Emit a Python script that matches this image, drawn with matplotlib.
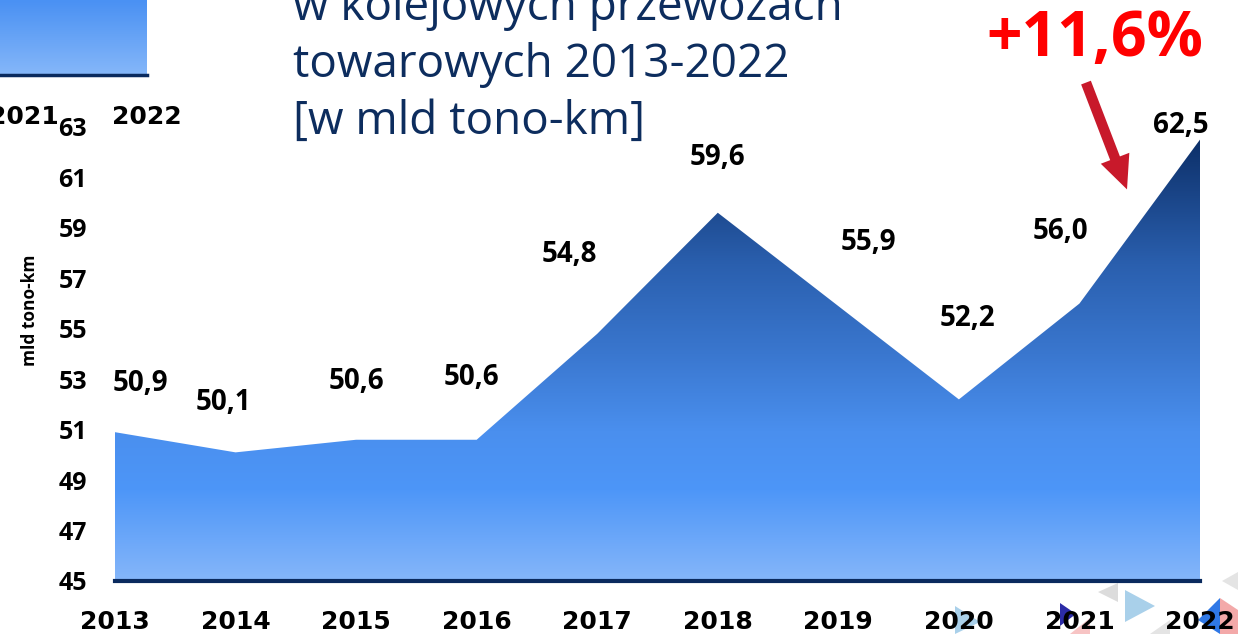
import numpy as np
import matplotlib
matplotlib.use('Agg')
import matplotlib.pyplot as plt
from matplotlib.colors import LinearSegmentedColormap
from matplotlib.patches import Polygon, FancyArrowPatch

# data: freight rail transport work, bn tonne-km
years = [2013, 2014, 2015, 2016, 2017, 2018, 2019, 2020, 2021, 2022]
values = [50.9, 50.1, 50.6, 50.6, 54.8, 59.6, 55.9, 52.2, 56.0, 62.5]
yticks = [45, 47, 49, 51, 53, 55, 57, 59, 61, 63]
title_lines = ['w kolejowych przewozach', 'towarowych 2013-2022', '[w mld tono-km]']
growth_text = '+11,6%'

# label offsets (points) so the numbers sit like on the slide
label_dx = [18, -9, 0, -4, -20, 0, 22, 6, -14, -14]
label_dy = [35, 36, 42, 45, 57, 40, 46, 58, 52, 10]

W, H = 1238, 634
fig = plt.figure(figsize=(W / 100, H / 100), dpi=100)

## ========== overlay in pixel coords (decorations behind everything)
ov = fig.add_axes([0, 0, 1, 1], zorder=0)
ov.set_xlim(0, W)
ov.set_ylim(H, 0)
ov.axis('off')

tris = [
    ([(1098, 592), (1118, 583), (1118, 602)], '#dcdcdc'),
    ([(1125, 590), (1125, 622), (1155, 606)], '#a9d0ea'),
    ([(1222, 581), (1238, 572), (1238, 590)], '#e4e4e4'),
    ([(1198, 620), (1220, 598), (1220, 634)], '#2f78e6'),
    ([(1220, 598), (1238, 610), (1238, 634), (1220, 634)], '#f3a9a9'),
    ([(955, 606), (955, 634), (980, 622)], '#a9d0ea'),
    ([(1060, 603), (1060, 626), (1076, 614)], '#2b2ba6'),
    ([(1070, 634), (1090, 618), (1090, 634)], '#f7c4c4'),
    ([(1150, 634), (1170, 620), (1170, 634)], '#e4e4e4'),
]
for pts, c in tris:
    ov.add_patch(Polygon(pts, closed=True, color=c, lw=0))

# remnant legend box top-left
grad_small = np.linspace(0, 1, 50).reshape(-1, 1)
box_cmap = LinearSegmentedColormap.from_list('box', ['#4a91f3', '#84b6f9'])
ov.imshow(grad_small, extent=[0, 147, 74, 0], cmap=box_cmap, aspect='auto')
ov.plot([0, 147], [75, 75], color='#0a2a5e', lw=2.5)
ov.text(59, 117, '2021', ha='right', va='center', fontsize=18, fontweight='bold',
        family='DejaVu Sans', color='black')
ov.text(112, 117, '2022', ha='left', va='center', fontsize=18, fontweight='bold',
        family='DejaVu Sans', color='black')

# title lines
for i, line in enumerate(title_lines):
    ov.text(293, 20 + 57 * i, line, ha='left', va='baseline', fontsize=33,
            family='Open Sans', color='#0d2d5e')

# growth label + arrow
ov.text(1095, 56, growth_text, ha='center', va='baseline', fontsize=45,
        fontweight='bold', family='Open Sans', color='#ff0000')
ov.add_patch(FancyArrowPatch((1085, 80), (1128, 192),
                             arrowstyle='simple,head_width=2.2,head_length=2.4,tail_width=0.75',
                             mutation_scale=10, color='#c8192b', lw=0))

## ========== main chart
ax = fig.add_axes([115 / W, 1 - 581 / H, 1085 / W, (581 - 127) / H], zorder=1)
ax.patch.set_alpha(0)

cmap = LinearSegmentedColormap.from_list(
    'area', [(0.0, '#85b6fa'), (0.2, '#4d96f8'), (0.33, '#4a8fee'),
             (0.5, '#3a77cf'), (0.7, '#2a5fae'), (1.0, '#0a2b62')])
grad = np.linspace(0, 1, 256).reshape(-1, 1)
poly = ax.fill_between(years, 45, values, color='none', lw=0)
img = ax.imshow(grad, extent=[years[0], years[-1], 45, 63], origin='lower',
                aspect='auto', cmap=cmap, zorder=1)
path = poly.get_paths()[0]
img.set_clip_path(path, transform=ax.transData)

ax.axhline(45, color='#0a2a5e', lw=3, zorder=3, clip_on=False)

ax.set_xlim(years[0], years[-1])
ax.set_ylim(45, 63)
for s in ax.spines.values():
    s.set_visible(False)

ax.set_yticks(yticks)
ax.set_yticklabels([str(t) for t in yticks], fontsize=18, fontweight='bold',
                   family='Open Sans')
ax.set_xticks(years)
ax.set_xticklabels([str(y) for y in years], fontsize=18, fontweight='bold',
                   family='DejaVu Sans')
ax.tick_params(axis='y', length=0, pad=20)
ax.tick_params(axis='x', length=0, pad=21)

fig.text(30 / W, 1 - 310 / H, 'mld tono-km', rotation=90, ha='center', va='center',
         fontsize=12.5, fontweight='bold', family='Open Sans')

for x, v, dx, dy in zip(years, values, label_dx, label_dy):
    ax.annotate(f'{v:.1f}'.replace('.', ','), (x, v), xytext=(dx, dy),
                textcoords='offset points', ha='center', va='center',
                fontsize=20, fontweight='bold', family='Open Sans',
                annotation_clip=False, zorder=5)

fig.savefig('out.png', dpi=100)
